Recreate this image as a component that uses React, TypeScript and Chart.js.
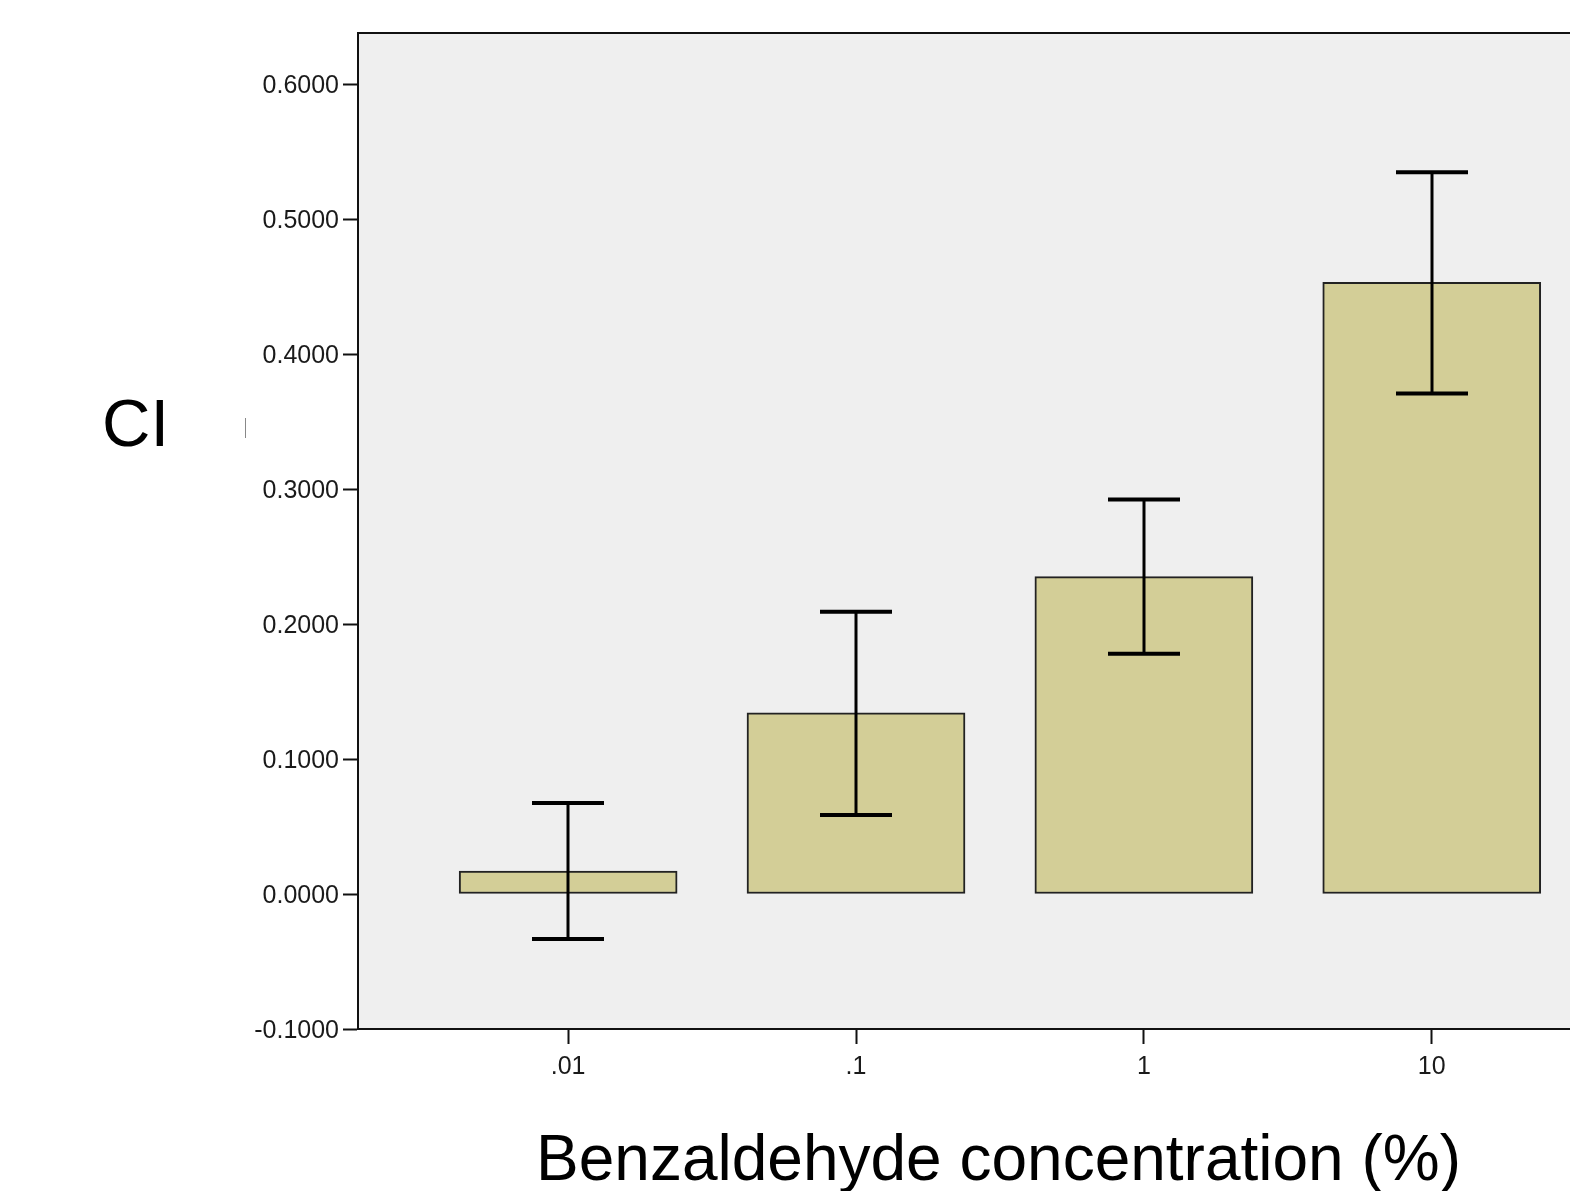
import React, { useEffect, useRef } from "react";
import { Chart, registerables } from "chart.js";

Chart.register(...registerables);

const categories = [".01", ".1", "1", "10"];
const means = [0.0171, 0.1343, 0.2352, 0.4533];
const ciLower = [-0.0334, 0.0586, 0.178, 0.3709];
const ciUpper = [0.0675, 0.2092, 0.2923, 0.5349];
const yTickValues = [-0.1, 0, 0.1, 0.2, 0.3, 0.4, 0.5, 0.6];
const yAxisLabel = "CI";
const xAxisLabel = "Benzaldehyde concentration (%)";

const FONT = "'Liberation Sans', Arial, Helvetica, sans-serif";
const BAR_THICKNESS = 218;
const CAP_HALF = 36;

const backgroundPlugin = {
  id: "plotBackground",
  beforeDraw(chart: any) {
    const { ctx, chartArea } = chart;
    ctx.save();
    ctx.fillStyle = "#efefef";
    ctx.fillRect(chartArea.left, chartArea.top, chartArea.right - chartArea.left, chartArea.bottom - chartArea.top);
    ctx.restore();
  },
  afterDraw(chart: any) {
    const { ctx, chartArea } = chart;
    ctx.save();
    ctx.strokeStyle = "#111";
    ctx.lineWidth = 2;
    ctx.beginPath();
    ctx.moveTo(chartArea.left - 1, chartArea.top);
    ctx.lineTo(chartArea.right, chartArea.top);
    ctx.stroke();
    ctx.fillStyle = "#000";
    ctx.font = `67px ${FONT}`;
    ctx.textAlign = "left";
    ctx.textBaseline = "alphabetic";
    ctx.fillText(yAxisLabel, 102, 446);
    ctx.strokeStyle = "#888";
    ctx.lineWidth = 1;
    ctx.beginPath();
    ctx.moveTo(245.5, 418);
    ctx.lineTo(245.5, 438);
    ctx.stroke();
    ctx.restore();
  },
};

const errorBarPlugin = {
  id: "errorBars",
  afterDatasetsDraw(chart: any) {
    const { ctx } = chart;
    const xs = chart.scales.x;
    const ys = chart.scales.y;
    ctx.save();
    ctx.strokeStyle = "#000";
    ctx.lineCap = "butt";
    means.forEach((_, i) => {
      const x = Math.round(xs.getPixelForValue(i));
      const yl = ys.getPixelForValue(ciLower[i]);
      const yh = ys.getPixelForValue(ciUpper[i]);
      ctx.lineWidth = 3;
      ctx.beginPath();
      ctx.moveTo(x, yl);
      ctx.lineTo(x, yh);
      ctx.stroke();
      ctx.lineWidth = 4;
      ctx.beginPath();
      ctx.moveTo(x - CAP_HALF, yh);
      ctx.lineTo(x + CAP_HALF, yh);
      ctx.moveTo(x - CAP_HALF, yl);
      ctx.lineTo(x + CAP_HALF, yl);
      ctx.stroke();
    });
    ctx.restore();
  },
};

export default function App() {
  const ref = useRef<HTMLCanvasElement | null>(null);

  useEffect(() => {
    document.body.style.margin = "0";
    document.documentElement.style.overflow = "hidden";
    const canvas = ref.current;
    if (!canvas) return;
    const chart = new Chart(canvas, {
      type: "bar",
      data: {
        datasets: [
          {
            data: means.map((v, i) => ({ x: i, y: v })),
            backgroundColor: "#d3ce97",
            borderColor: "#222",
            borderWidth: 2,
            borderSkipped: false,
            barThickness: BAR_THICKNESS,
          },
        ],
      },
      options: {
        responsive: false,
        animation: false,
        devicePixelRatio: 1,
        layout: { padding: { left: 0, top: 33, right: 0, bottom: 0 } },
        plugins: { legend: { display: false }, tooltip: { enabled: false } },
        scales: {
          x: {
            type: "linear",
            offset: false,
            min: -0.73,
            max: 3.72,
            afterFit(scale: any) {
              scale.height = 162;
            },
            afterBuildTicks(scale: any) {
              scale.ticks = categories.map((_, i) => ({ value: i }));
            },
            grid: {
              offset: false,
              drawOnChartArea: false,
              drawTicks: true,
              tickLength: 15,
              tickWidth: 2,
              tickColor: "#111",
            },
            border: { display: true, color: "#111", width: 2 },
            ticks: {
              autoSkip: false,
              maxRotation: 0,
              padding: 8,
              color: "#1a1a1a",
              font: { family: FONT, size: 25 },
              callback: (v: any) => categories[Math.round(Number(v))] ?? "",
            },
            title: {
              display: true,
              text: xAxisLabel,
              color: "#000",
              font: { family: FONT, size: 64, lineHeight: 0.9 },
              padding: { top: 0, bottom: 0 },
            },
          },
          y: {
            type: "linear",
            min: -0.1,
            max: 0.638,
            afterFit(scale: any) {
              scale.width = 358;
            },
            afterBuildTicks(scale: any) {
              scale.ticks = yTickValues.map((v) => ({ value: v }));
            },
            grid: {
              drawOnChartArea: false,
              drawTicks: true,
              tickLength: 15,
              tickWidth: 2,
              tickColor: "#111",
            },
            border: { display: true, color: "#111", width: 2 },
            ticks: {
              padding: 4,
              labelOffset: 2,
              color: "#1a1a1a",
              font: { family: FONT, size: 25 },
              callback: (v: any) => Number(v).toFixed(4),
            },
          },
        },
      },
      plugins: [backgroundPlugin, errorBarPlugin],
    } as any);
    return () => chart.destroy();
  }, []);

  return (
    <div style={{ width: 1570, height: 1191, overflow: "hidden", position: "relative", background: "#fff" }}>
      <canvas ref={ref} width={1639} height={1191} style={{ display: "block", width: 1639, height: 1191 }} />
    </div>
  );
}
